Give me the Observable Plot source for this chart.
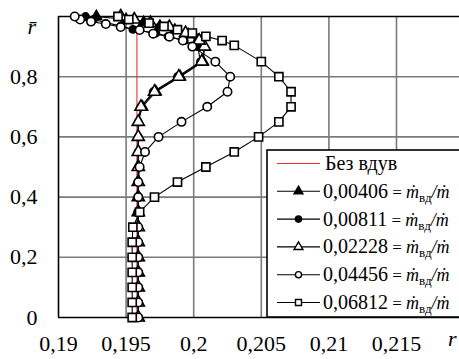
<!DOCTYPE html>
<html>
<head>
<meta charset="utf-8">
<script src="https://cdn.jsdelivr.net/npm/d3@7"></script>
<script src="https://cdn.jsdelivr.net/npm/@observablehq/plot@0.6"></script>
<style>
  html, body { margin: 0; padding: 0; background: #fff; }
  #chart { position: relative; width: 459px; height: 359px; overflow: hidden; }
</style>
</head>
<body>
<div id="chart"></div>
<script>
// ---- data ----
const xTicks = [0.19, 0.195, 0.2, 0.205, 0.21, 0.215];
const xTickLabels = ["0,19", "0,195", "0,2", "0,205", "0,21", "0,215"];
const yTicks = [0, 0.2, 0.4, 0.6, 0.8];
const yTickLabels = ["0", "0,2", "0,4", "0,6", "0,8"];

const seriesNames = ["0,00406", "0,00811", "0,02228", "0,04456", "0,06812"];

// Без вдув (no injection)
const base_r = [0, 0.955];
const base_x = [0.1958, 0.1958];

// 0,00406 (filled triangle)
const s1_r = [0,0.05,0.1,0.15,0.2,0.25,0.3,0.35,0.4,0.45,0.5,0.55,0.6,0.65,0.7,0.75,0.8,0.85,0.9,0.92,0.94,0.955,0.968,0.98,0.99,1.0];
const s1_x = [0.1959,0.1959,0.1959,0.1959,0.1959,0.1959,0.1959,0.1959,0.1959,0.1959,0.1959,0.1959,0.1959,0.1959,0.1962,0.1972,0.1990,0.2007,0.2008,0.2003,0.1996,0.1986,0.1975,0.1963,0.1950,0.1928];

// 0,00811 (filled circle)
const s2_r = [0,0.05,0.1,0.15,0.2,0.25,0.3,0.35,0.4,0.45,0.5,0.55,0.6,0.65,0.7,0.75,0.8,0.85,0.9,0.92,0.934,0.945,0.957,0.968,0.99,1.0];
const s2_x = [0.1959,0.1959,0.1959,0.1959,0.1959,0.1959,0.1959,0.1959,0.1959,0.1959,0.1959,0.1959,0.1959,0.1959,0.1961,0.1970,0.1988,0.2005,0.2003,0.1993,0.1981,0.1972,0.1955,0.1946,0.1926,0.1920];

// 0,02228 (open triangle)
const s3_r = [0,0.05,0.1,0.15,0.2,0.25,0.3,0.35,0.4,0.45,0.5,0.55,0.6,0.65,0.7,0.75,0.8,0.85,0.9,0.92,0.945,0.965,0.978,0.99,1.0];
const s3_x = [0.1959,0.1959,0.1959,0.1959,0.1959,0.1959,0.1959,0.1959,0.1959,0.1959,0.1959,0.1959,0.1959,0.1959,0.1961,0.1971,0.1989,0.2006,0.2008,0.2004,0.1994,0.1982,0.1968,0.1956,0.1946];

// 0,04456 (open circle)
const s4_r = [0,0.05,0.1,0.15,0.2,0.25,0.3,0.35,0.4,0.45,0.5,0.55,0.6,0.65,0.7,0.75,0.8,0.85,0.9,0.92,0.933,0.943,0.955,0.965,0.975,0.983,0.99,1.0];
const s4_x = [0.1959,0.1959,0.1959,0.1959,0.1959,0.1959,0.1959,0.1959,0.1959,0.1959,0.1960,0.1964,0.1974,0.1991,0.2010,0.2025,0.2027,0.2016,0.1999,0.1992,0.1982,0.1970,0.1960,0.1946,0.1935,0.1924,0.1916,0.1912];

// 0,06812 (open square)
const s5_r = [0,0.05,0.1,0.15,0.2,0.25,0.3,0.35,0.4,0.45,0.5,0.55,0.6,0.65,0.7,0.75,0.8,0.85,0.904,0.92,0.934,0.945,0.956,0.967,0.978,0.99,1.0];
const s5_x = [0.19545,0.19545,0.19545,0.19545,0.19545,0.19545,0.19550,0.1960,0.1971,0.1988,0.2009,0.2030,0.2048,0.2063,0.2072,0.2072,0.2063,0.2050,0.2030,0.2021,0.2009,0.1999,0.1988,0.1978,0.1967,0.1952,0.1944];

// ---- build tables ----
const toRows = (xs, rs, name) => xs.map((x, i) => ({x, r: rs[i], name}));
const base = toRows(base_x, base_r, "base");
const series = [
  {rows: toRows(s1_x, s1_r, seriesNames[0]), symbol: "triangle", fill: "black", r: 3.9},
  {rows: toRows(s2_x, s2_r, seriesNames[1]), symbol: "circle", fill: "black", r: 3.6},
  {rows: toRows(s3_x, s3_r, seriesNames[2]), symbol: "triangle", fill: "white", r: 4.5},
  {rows: toRows(s4_x, s4_r, seriesNames[3]), symbol: "circle", fill: "white", r: 4.2},
  {rows: toRows(s5_x, s5_r, seriesNames[4]), symbol: "square", fill: "white", r: 4.6}
];

const FONT = "Liberation Serif";
const xMin = 0.19, xMax = 0.21966;
const fmtX = d => xTickLabels[xTicks.indexOf(d)];
const fmtY = d => yTickLabels[yTicks.indexOf(d)];
const RED = "#f03030";

const marks = [
  Plot.gridX(xTicks.slice(1), {stroke: "#7a7a7a", strokeOpacity: 1, strokeWidth: 1.6}),
  Plot.gridY(yTicks.slice(1), {stroke: "#7a7a7a", strokeOpacity: 1, strokeWidth: 1.6}),
  Plot.ruleY([1], {x1: xMin, x2: xMax, stroke: "black", strokeWidth: 1.6}),
  Plot.ruleY([0], {x1: xMin, x2: xMax, stroke: "black", strokeWidth: 1.6}),
  Plot.ruleX([xMin], {y1: 0, y2: 1, stroke: "black", strokeWidth: 1.6}),
  Plot.line(base, {x: "x", y: "r", stroke: RED, strokeWidth: 1.1}),
];
for (const s of series) {
  marks.push(Plot.line(s.rows, {x: "x", y: "r", stroke: "black", strokeWidth: 1.1}));
}
for (const s of series) {
  marks.push(Plot.dot(s.rows, {x: "x", y: "r", symbol: () => s.symbol, r: s.r, fill: s.fill, stroke: "black", strokeWidth: 1.6}));
}
marks.push(
  Plot.axisX(xTicks, {tickFormat: fmtX, tickSize: 0, tickPadding: 18, fontSize: 22, fontFamily: FONT, label: null}),
  Plot.axisY(yTicks, {tickFormat: fmtY, tickSize: 0, tickPadding: 21, fontSize: 22, fontFamily: FONT, label: null}),
  Plot.text(["r"], {frameAnchor: "bottom-right", dx: -3, dy: 28, textAnchor: "end", fontStyle: "italic", fontSize: 22, fontFamily: FONT}),
  Plot.text(["r\u0304"], {frameAnchor: "top-left", dx: -31, dy: 2, fontStyle: "italic", fontSize: 22, fontFamily: FONT})
);

const chart = Plot.plot({
  width: 459, height: 359,
  marginLeft: 58, marginRight: 0, marginTop: 16, marginBottom: 42,
  x: {domain: [xMin, xMax]},
  y: {domain: [0, 1]},
  symbol: {type: "identity"},
  style: {fontFamily: "'Liberation Serif', serif", fontSize: "22px", color: "black", background: "white", overflow: "visible"},
  marks
});
chart.setAttribute("font-family", FONT);
document.getElementById("chart").appendChild(chart);
d3.select(chart).selectAll("text").attr("font-family", FONT);

// ---- legend (inside plot area, lower right) ----
const svg = d3.select(chart);
const lg = svg.append("g").attr("text-anchor", "start").attr("font-family", FONT);
const boxL = 267, boxT = 150, boxB = 317;
lg.append("rect").attr("x", boxL).attr("y", boxT).attr("width", 470 - boxL).attr("height", boxB - boxT)
  .attr("fill", "white").attr("stroke", "black").attr("stroke-width", 1.6);
const rowY0 = 163.5, rowStep = 27.8;
const sx1 = 277, sx2 = 320, mx = 298.5, tx = 323;
// no-injection entry
lg.append("line").attr("x1", sx1).attr("x2", sx2).attr("y1", rowY0).attr("y2", rowY0).attr("stroke", RED).attr("stroke-width", 1.1);
lg.append("text").attr("x", tx + 2).attr("y", rowY0).attr("dy", "0.32em").attr("font-size", 20)
  .attr("font-family", FONT).attr("text-anchor", "start").text("Без вдув");
const sym = {triangle: d3.symbolTriangle, circle: d3.symbolCircle, square: d3.symbolSquare};
series.forEach((s, i) => {
  const y = rowY0 + rowStep * (i + 1);
  lg.append("line").attr("x1", sx1).attr("x2", sx2).attr("y1", y).attr("y2", y).attr("stroke", "black").attr("stroke-width", 1.1);
  const area = s.symbol === "circle" ? 30 : (s.symbol === "square" ? 36 : 34);
  lg.append("path").attr("d", d3.symbol(sym[s.symbol], area)()).attr("transform", `translate(${mx},${y})`)
    .attr("fill", s.fill).attr("stroke", "black").attr("stroke-width", 1.4);
  const t = lg.append("text").attr("x", tx).attr("y", y).attr("dy", "0.32em").attr("font-size", 20)
    .attr("font-family", FONT).attr("text-anchor", "start");
  t.append("tspan").text(seriesNames[i]);
  t.append("tspan").attr("font-size", 17).text(" = ");
  t.append("tspan").attr("font-style", "italic").attr("font-size", 18).text("\u1E41");
  t.append("tspan").attr("font-size", 13).attr("dy", 4).text("вд");
  t.append("tspan").attr("font-size", 18).attr("dy", -4).attr("font-style", "italic").text("/\u1E41");
});
</script>
</body>
</html>
